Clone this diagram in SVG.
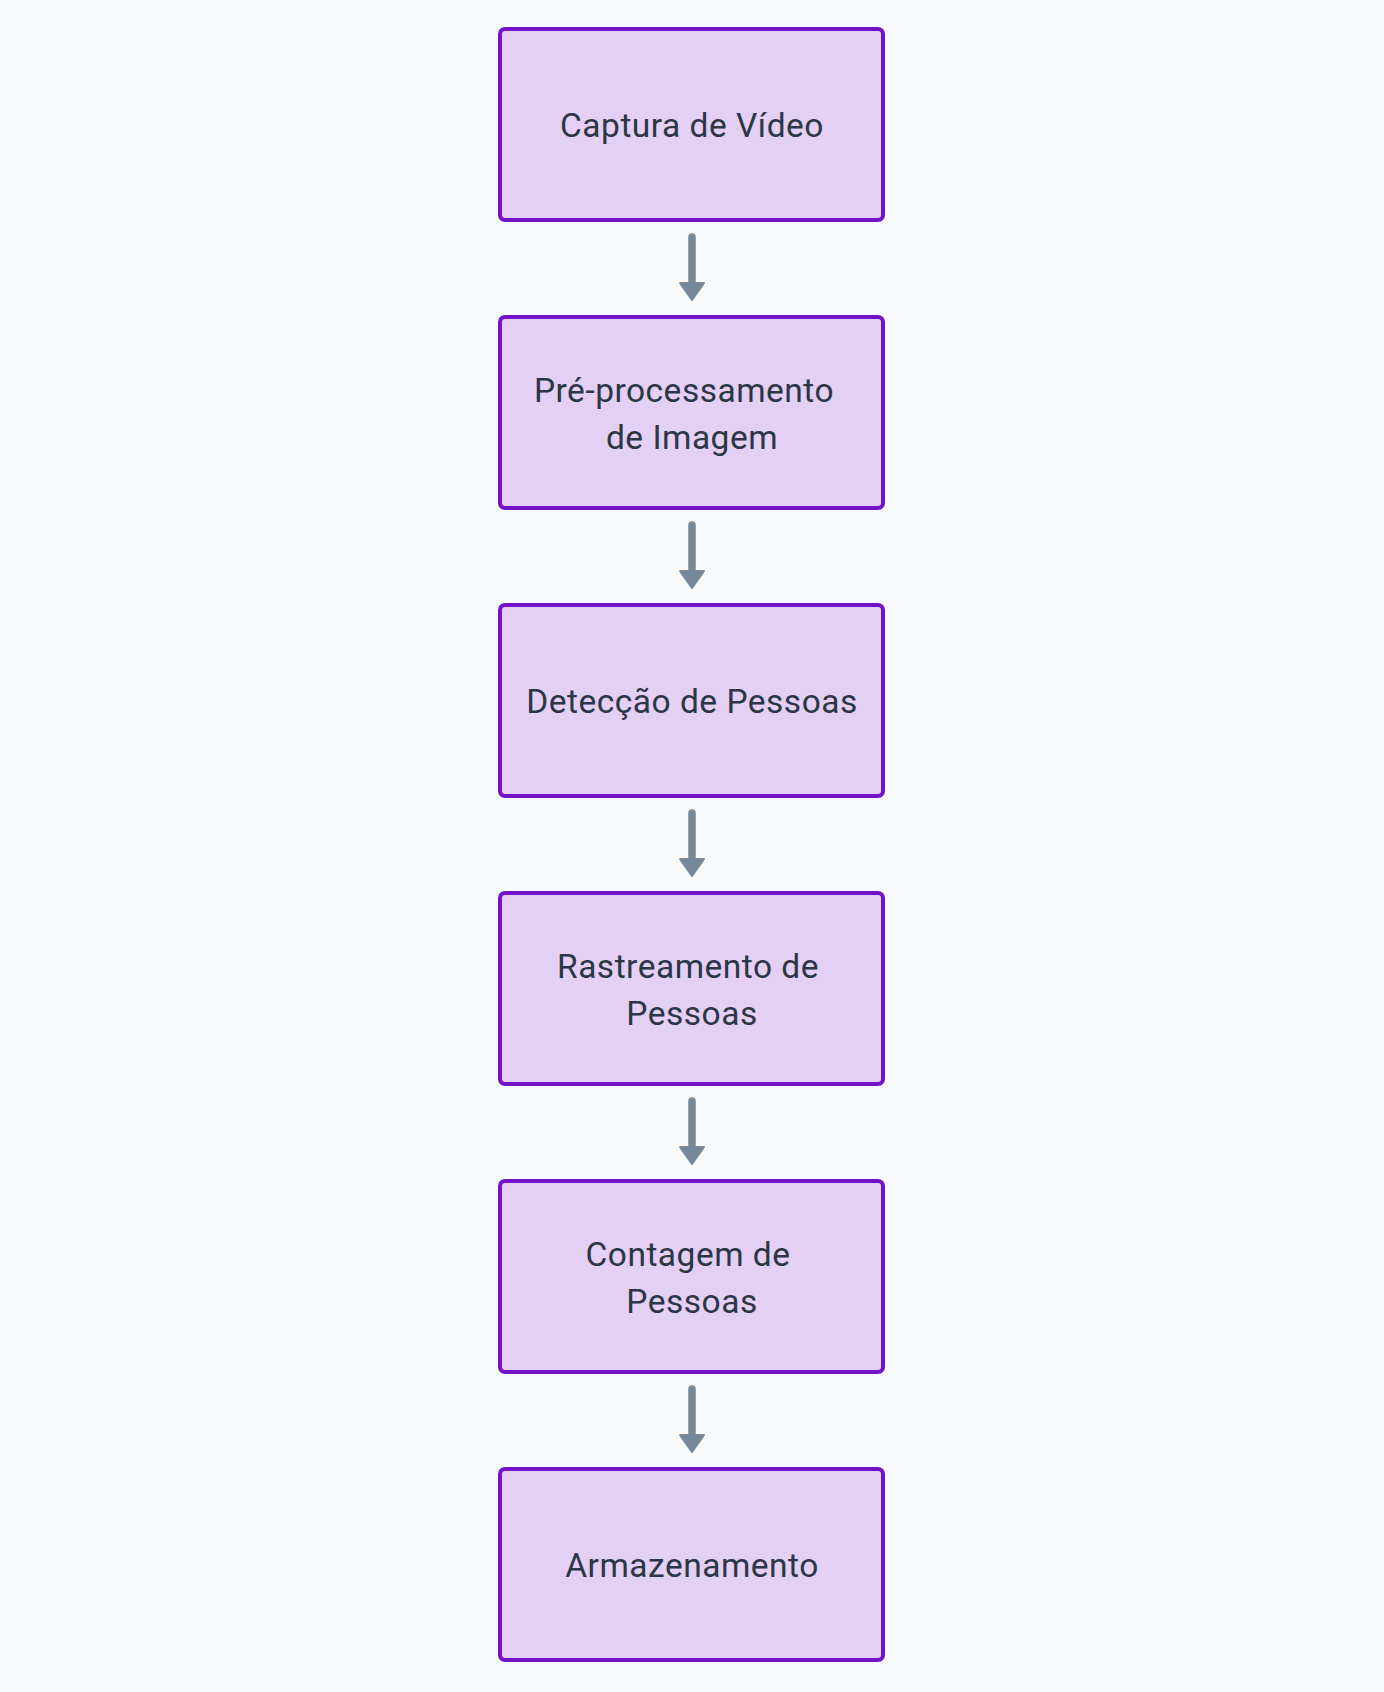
<svg xmlns="http://www.w3.org/2000/svg" width="1384" height="1692" viewBox="0 0 1384 1692">
<defs>
<style>
.bg{fill:#F8F9FA}
.node rect{fill:#E4D0F4;stroke:#7211C6;stroke-width:4}
.node text{font-family:"Roboto","Liberation Sans",sans-serif;font-size:33.5px;letter-spacing:0.5px;fill:#2B3646;text-anchor:middle}
.edge line{stroke:#778899;stroke-width:7.5;stroke-linecap:round}
.edge polygon{fill:#778899;stroke:#778899;stroke-width:2;stroke-linejoin:round}
</style>
</defs>
<rect class="bg" x="0" y="0" width="1384" height="1692"/>
<g id="connectors" class="edge">
<g><line x1="692" y1="237" x2="692" y2="284"/><polygon points="680,283 704,283 692,300"/></g>
<g><line x1="692" y1="525" x2="692" y2="572"/><polygon points="680,571 704,571 692,588"/></g>
<g><line x1="692" y1="813" x2="692" y2="860"/><polygon points="680,859 704,859 692,876"/></g>
<g><line x1="692" y1="1101" x2="692" y2="1148"/><polygon points="680,1147 704,1147 692,1164"/></g>
<g><line x1="692" y1="1389" x2="692" y2="1436"/><polygon points="680,1435 704,1435 692,1452"/></g>
</g>
<g id="node-captura" class="node">
<rect x="500" y="29" width="383" height="191" rx="5"/>
<text x="692" y="137">Captura de Vídeo</text>
</g>
<g id="node-preprocessamento" class="node">
<rect x="500" y="317" width="383" height="191" rx="5"/>
<text x="684" y="402">Pré-processamento</text>
<text x="692" y="449">de Imagem</text>
</g>
<g id="node-deteccao" class="node">
<rect x="500" y="605" width="383" height="191" rx="5"/>
<text x="692" y="713">Detecção de Pessoas</text>
</g>
<g id="node-rastreamento" class="node">
<rect x="500" y="893" width="383" height="191" rx="5"/>
<text x="688" y="978">Rastreamento de</text>
<text x="692" y="1025">Pessoas</text>
</g>
<g id="node-contagem" class="node">
<rect x="500" y="1181" width="383" height="191" rx="5"/>
<text x="688" y="1265.5">Contagem de</text>
<text x="692" y="1312.5">Pessoas</text>
</g>
<g id="node-armazenamento" class="node">
<rect x="500" y="1469" width="383" height="191" rx="5"/>
<text x="692" y="1577">Armazenamento</text>
</g>
</svg>
